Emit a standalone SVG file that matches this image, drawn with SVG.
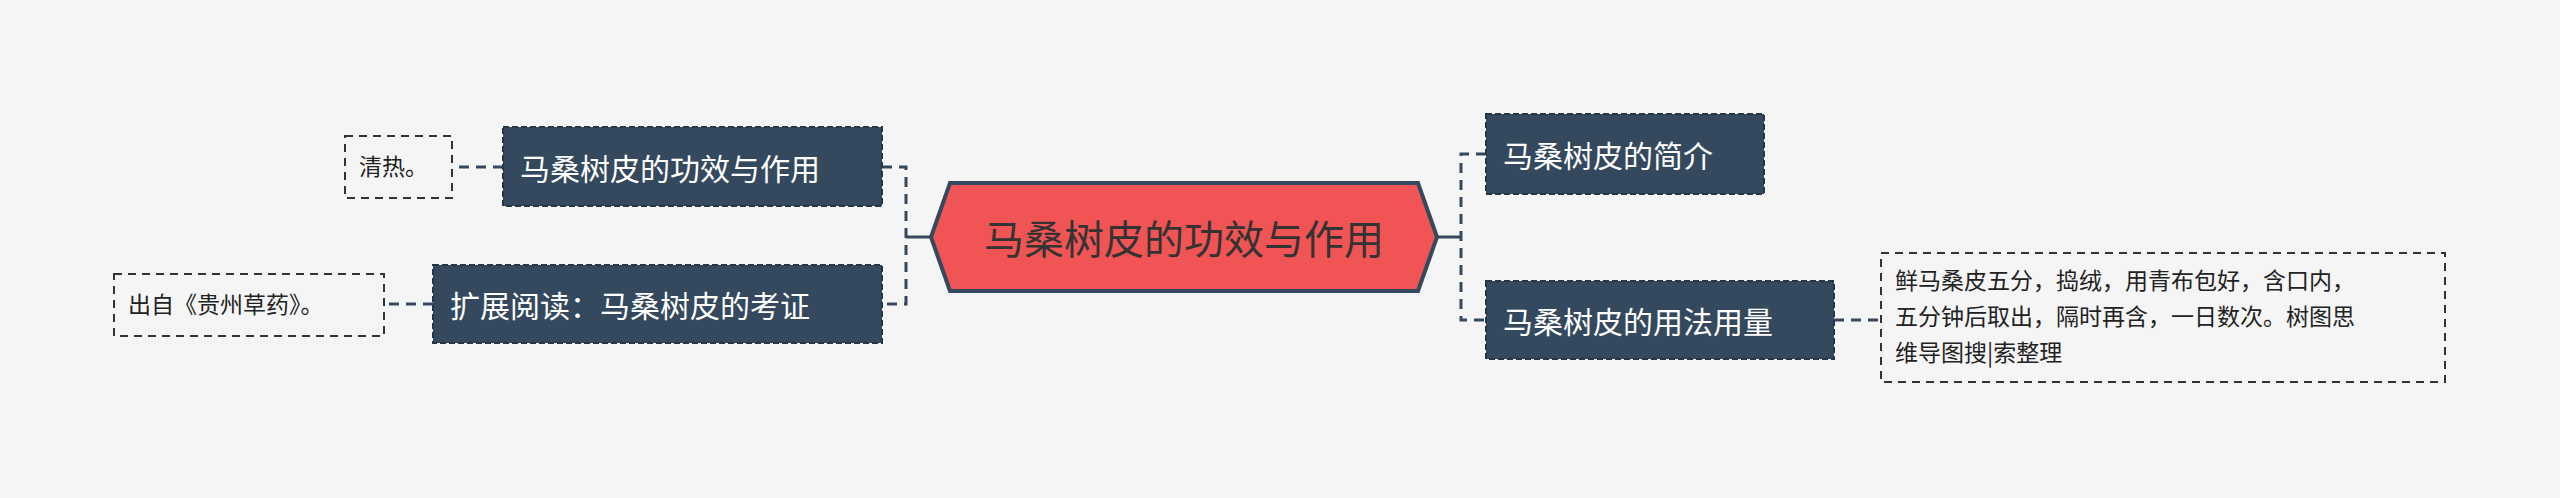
<svg xmlns="http://www.w3.org/2000/svg" width="2560" height="498" viewBox="0 0 2560 498">
<style>
text{font-family:"Noto Sans CJK SC","Liberation Sans",sans-serif;}
.n rect{fill:#34495e;stroke:#263645;stroke-width:2;stroke-dasharray:6 3}
.n text{fill:#fff;font-size:30px;dominant-baseline:central}
.l rect{fill:none;stroke:#333;stroke-width:2;stroke-dasharray:8 6}
.l text{fill:#222;font-size:23px}
.c{fill:none;stroke:#34495e;stroke-width:3;stroke-dasharray:10 7}
.s{fill:none;stroke:#34495e;stroke-width:3}
</style>
<rect width="2560" height="498" fill="#f5f5f5"/>
<g id="connectors">
<path class="s" d="M931 237H906M1437 237H1461"/>
<path class="c" d="M882 167H906V304H882"/>
<path class="c" d="M1486 154H1461V320H1486"/>
<path class="c" d="M503 167H452"/>
<path class="c" d="M433 304H384"/>
<path class="c" d="M1834 320H1881"/>
</g>
<g id="root">
<polygon points="950,183 1418,183 1437,237 1418,291 950,291 931,237" fill="#f05454" stroke="#34495e" stroke-width="4"/>
<text x="1184" y="237" text-anchor="middle" dominant-baseline="central" font-size="40" fill="#333">马桑树皮的功效与作用</text>
</g>
<g id="n1" class="n"><rect x="503" y="127" width="379" height="79"/><text x="520" y="167">马桑树皮的功效与作用</text></g>
<g id="n2" class="n"><rect x="433" y="265" width="449" height="78"/><text x="450" y="304">扩展阅读：马桑树皮的考证</text></g>
<g id="n3" class="n"><rect x="1486" y="114" width="278" height="80"/><text x="1503" y="154">马桑树皮的简介</text></g>
<g id="n4" class="n"><rect x="1486" y="281" width="348" height="78"/><text x="1503" y="320">马桑树皮的用法用量</text></g>
<g id="l1" class="l"><rect x="345" y="136" width="107" height="62"/><text x="359" y="175">清热。</text></g>
<g id="l2" class="l"><rect x="114" y="274" width="270" height="62"/><text x="128" y="313">出自《贵州草药》。</text></g>
<g id="l3" class="l"><rect x="1881" y="253" width="564" height="129"/>
<text x="1895" y="289">鲜马桑皮五分，捣绒，用青布包好，含口内，</text>
<text x="1895" y="325">五分钟后取出，隔时再含，一日数次。树图思</text>
<text x="1895" y="361">维导图搜|索整理</text></g>
</svg>
